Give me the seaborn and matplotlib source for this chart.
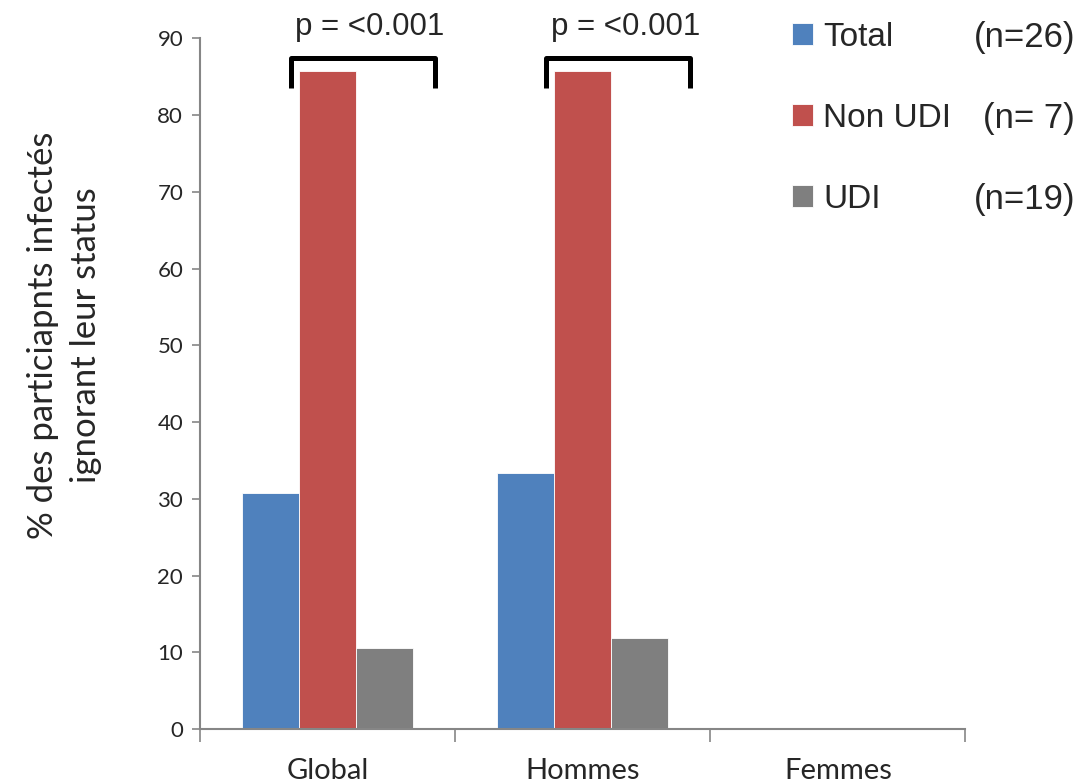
import pandas as pd
import seaborn as sns
from matplotlib import pyplot as plt

# values
groups = ['Global', 'Hommes', 'Femmes']
series = ['Total', 'Non UDI', 'UDI']
series_n = ['(n=26)', '(n= 7)', '(n=19)']
total = [30.8, 33.3, 0]
non_udi = [85.7, 85.7, 0]
udi = [10.5, 11.8, 0]
p_labels = ['p = <0.001', 'p = <0.001', None]

colors = ['#4F81BD', '#C0504D', '#7F7F7F']
spine_col = '#868686'

data = pd.DataFrame({
    'groupe': groups * 3,
    'serie': [s for s in series for _ in groups],
    'pct': total + non_udi + udi,
})

sns.set_style('white')
plt.rcParams['font.family'] = ['Lato', 'DejaVu Sans']

fig = plt.figure(figsize=(10.86, 7.83), dpi=100)
ax = fig.add_axes([0.184, 0.069, 0.705, 0.882])

sns.barplot(ax=ax, data=data, x='groupe', y='pct', hue='serie',
            order=groups, hue_order=series, palette=colors,
            width=0.67, edgecolor='white', linewidth=0.6, saturation=1)

ax.set_ylim(0, 90)
ax.set_xlim(-0.5, 2.5)
ax.set_yticks(range(0, 91, 10))
ax.tick_params(axis='y', labelsize=16, length=6, width=1.2, color=spine_col,
               left=True, pad=6)
ax.set_xticks(range(len(groups)))
ax.set_xticklabels(groups)
ax.set_xticks([-0.5, 0.5, 1.5, 2.5], minor=True)
ax.tick_params(axis='x', which='major', labelsize=21, length=0, pad=21)
ax.tick_params(axis='x', which='minor', length=9, width=1.2, color=spine_col,
               bottom=True)
for side in ['top', 'right']:
    ax.spines[side].set_visible(False)
for side in ['left', 'bottom']:
    ax.spines[side].set_color(spine_col)
    ax.spines[side].set_linewidth(1.5)

ax.set_xlabel('')
ax.set_ylabel('% des particiapnts infectés\nignorant leur status', fontsize=25,
              labelpad=40, linespacing=1.4, y=0.57)

# significance brackets above the Non UDI / UDI bars
for i, lab in enumerate(p_labels):
    if lab is None:
        continue
    top = max(non_udi[i], udi[i])
    x0, x1 = i - 0.143, i + 0.42
    y0, y1 = top - 2.2, top + 1.8
    ax.plot([x0, x0, x1, x1], [y0, y1, y1, y0], color='black', lw=3.6,
            solid_joinstyle='round', solid_capstyle='butt', clip_on=False)
    ax.text(i + 0.167, 90.4, lab, ha='center', va='baseline', fontsize=22.5,
            family=['Liberation Sans', 'DejaVu Sans'], clip_on=False)

handles, labels = ax.get_legend_handles_labels()
leg = ax.legend(handles, labels, loc='upper left', bbox_to_anchor=(0.729, 0.972),
                bbox_transform=fig.transFigure, frameon=False,
                prop={'family': 'Liberation Sans', 'size': 24},
                handlelength=0.65, handleheight=0.65, handletextpad=0.3,
                labelspacing=1.5, borderaxespad=0, borderpad=0)

fig.canvas.draw()
inv = fig.transFigure.inverted()
for txt, n in zip(leg.get_texts(), series_n):
    bb = txt.get_window_extent()
    yc = inv.transform((0, (bb.y0 + bb.y1) / 2))[1]
    fig.text(0.99, yc, n, ha='right', va='center', fontsize=25,
             family=['Liberation Sans', 'DejaVu Sans'])

fig.savefig('out.png', dpi=100)
